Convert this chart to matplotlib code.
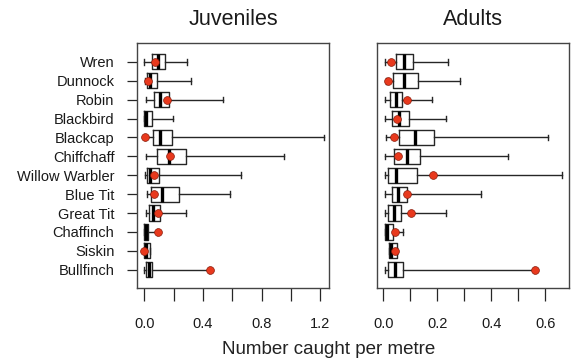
"""Boxplots of catch rate per species, juveniles vs adults."""

import numpy as np
import matplotlib
matplotlib.use('Agg')
import matplotlib.pyplot as plt

plt.rcParams['font.family'] = ['Liberation Sans', 'DejaVu Sans']

species = ['Wren', 'Dunnock', 'Robin', 'Blackbird', 'Blackcap', 'Chiffchaff',
           'Willow Warbler', 'Blue Tit', 'Great Tit', 'Chaffinch', 'Siskin',
           'Bullfinch']

# juveniles
juv_lo = [0.000, 0.008, 0.010, 0.000, 0.007, 0.010, 0.005, 0.016, 0.010, 0.000, 0.000, 0.000]
juv_q1 = [0.050, 0.016, 0.066, 0.000, 0.057, 0.084, 0.016, 0.048, 0.032, 0.000, 0.000, 0.012]
juv_med = [0.093, 0.039, 0.107, 0.012, 0.107, 0.168, 0.039, 0.123, 0.061, 0.010, 0.012, 0.030]
juv_q3 = [0.143, 0.085, 0.168, 0.050, 0.186, 0.284, 0.102, 0.234, 0.109, 0.023, 0.039, 0.052]
juv_hi = [0.293, 0.318, 0.534, 0.193, 1.225, 0.950, 0.657, 0.584, 0.284, 0.085, 0.039, 0.440]
juv_mean = [0.075, 0.025, 0.153, np.nan, 0.007, 0.175, 0.066, 0.066, 0.093, 0.093, 0.000, 0.448]

# adults
ad_lo = [0.006, 0.010, 0.006, 0.006, 0.010, 0.006, 0.006, 0.006, 0.006, 0.006, 0.022, 0.006]
ad_q1 = [0.046, 0.035, 0.024, 0.031, 0.059, 0.041, 0.017, 0.031, 0.017, 0.006, 0.022, 0.019]
ad_med = [0.078, 0.078, 0.046, 0.059, 0.117, 0.087, 0.047, 0.056, 0.040, 0.014, 0.030, 0.044]
ad_q3 = [0.110, 0.127, 0.069, 0.096, 0.187, 0.137, 0.124, 0.088, 0.064, 0.037, 0.050, 0.074]
ad_hi = [0.240, 0.284, 0.180, 0.231, 0.611, 0.461, 0.664, 0.362, 0.231, 0.074, 0.050, 0.560]
ad_mean = [0.027, 0.017, 0.087, 0.050, 0.040, 0.056, 0.185, 0.087, 0.104, 0.043, 0.043, 0.564]

juv_ticks = [0.0, 0.2, 0.4, 0.6, 0.8, 1.0, 1.2]
juv_ticklabels = ['0.0', '', '0.4', '', '0.8', '', '1.2']
ad_ticks = [0.0, 0.1, 0.2, 0.3, 0.4, 0.5, 0.6]
ad_ticklabels = ['0.0', '', '0.2', '', '0.4', '', '0.6']

LINE = '#262626'
RED = '#E8391D'


def make_stats(lo, q1, med, q3, hi, mean):
    out = []
    for a, b, c, d, e, m in zip(lo, q1, med, q3, hi, mean):
        out.append(dict(whislo=a, q1=b, med=c, q3=d, whishi=e, mean=m, fliers=[]))
    return out


def draw_panel(ax, stats, title, xlim, ticks, ticklabels, show_y):
    pos = np.arange(1, len(stats) + 1)
    ax.bxp(stats, positions=pos, orientation='horizontal', widths=0.8,
           capwidths=0.3, showmeans=True, showfliers=False, patch_artist=False,
           boxprops=dict(color=LINE, lw=1.0),
           whiskerprops=dict(color=LINE, lw=1.0),
           capprops=dict(color=LINE, lw=1.0),
           medianprops=dict(color='black', lw=2.4, solid_capstyle='butt'),
           meanprops=dict(marker='o', markerfacecolor=RED, markeredgecolor='#8a1c0c',
                          markeredgewidth=0.5, markersize=5.6))
    ax.set_ylim(12.98, 0.02)
    ax.set_xlim(*xlim)
    ax.set_xticks(ticks)
    ax.set_xticklabels(ticklabels, fontsize=10.5, color='#1a1a1a')
    ax.tick_params(axis='x', length=9, width=0.9, color=LINE, pad=12)
    if show_y:
        ax.set_yticks(pos)
        ax.set_yticklabels(species, fontsize=10.5, color='#1a1a1a')
        ax.tick_params(axis='y', length=7.5, width=0.9, color=LINE, pad=9)
    else:
        ax.set_yticks([])
    for s in ax.spines.values():
        s.set_color('#444444')
        s.set_linewidth(1.0)
    ax.set_title(title, fontsize=15.5, pad=13, color='#1a1a1a')


fig = plt.figure(figsize=(5.74, 3.61), dpi=100)
ax1 = fig.add_axes([0.2392, 0.2014, 0.3345, 0.6787])
ax2 = fig.add_axes([0.6573, 0.2014, 0.3334, 0.6787])

draw_panel(ax1, make_stats(juv_lo, juv_q1, juv_med, juv_q3, juv_hi, juv_mean),
           'Juveniles', (-0.0477, 1.261), juv_ticks, juv_ticklabels, True)
draw_panel(ax2, make_stats(ad_lo, ad_q1, ad_med, ad_q3, ad_hi, ad_mean),
           'Adults', (-0.022, 0.687), ad_ticks, ad_ticklabels, False)

fig.text(329 / 574, 1 - 350 / 361, 'Number caught per metre', ha='center',
         va='center', fontsize=13.5, color='#222222')

fig.savefig('out.png', dpi=100, facecolor='white')
